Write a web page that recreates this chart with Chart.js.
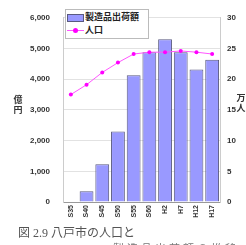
<!DOCTYPE html>
<html><head><meta charset="utf-8">
<script src="https://cdn.jsdelivr.net/npm/chart.js@4"></script>
<style>
html,body{margin:0;padding:0;background:#fff;}
#wrap{position:relative;width:246px;height:245px;overflow:hidden;font-family:"Liberation Sans","Noto Sans CJK JP",sans-serif;}
canvas{position:absolute;left:0;top:0;}
.ttl{position:absolute;font-family:"Noto Sans CJK JP",sans-serif;font-weight:bold;font-size:9px;line-height:10px;color:#333;width:10px;text-align:center;}
#legend{position:absolute;left:65px;top:9px;width:82px;height:28px;border:1px solid #bbb;background:#fff;font-family:"Noto Sans CJK JP",sans-serif;font-weight:bold;font-size:9px;color:#222;}
.li{position:absolute;left:0;height:12px;line-height:12px;white-space:nowrap;}
.li span.t{position:absolute;left:19px;top:0;}
.cap{position:absolute;font-family:"Liberation Serif","Noto Sans CJK JP",serif;color:#555;white-space:nowrap;}
</style></head>
<body>
<div id="wrap">
<canvas id="c" width="246" height="245"></canvas>
<div class="ttl" style="left:13px;top:95px;">億<br>円</div>
<div class="ttl" style="left:236px;top:93px;">万<br>人</div>
<div id="legend"></div>
<div class="cap" style="left:18px;top:225px;font-size:12px;line-height:16px;">図 2.9 八戸市の人口と</div>
<div class="cap" style="left:113px;top:242px;font-size:11px;line-height:14px;letter-spacing:3px;color:#777;">製造品出荷額の推移</div>
</div>
<script>
const categories = ['S35','S40','S45','S50','S55','S60','H2','H7','H12','H17'];
const shipments = [null, 350, 1230, 2300, 4130, 4880, 5300, 4880, 4320, 4630];
const population = [17.5, 19.1, 21.1, 22.7, 24.1, 24.4, 24.4, 24.6, 24.4, 24.1];
const seriesNames = ['製造品出荷額', '人口'];
const leftTicks = [0, 1000, 2000, 3000, 4000, 5000, 6000];
const rightTicks = [0, 5, 10, 15, 20, 25, 30];

const barFill = '#9999ff', barBorder = '#5a5a80', lineColor = '#ff55ff', pointColor = '#ff00ff';

const lg = document.getElementById('legend');
lg.innerHTML =
 '<div class="li" style="top:1px;width:82px;"><span style="position:absolute;left:1px;top:3px;width:15px;height:6px;background:'+barFill+';border:1px solid '+barBorder+';"></span><span class="t">'+seriesNames[0]+'</span></div>'+
 '<div class="li" style="top:14px;width:82px;"><span style="position:absolute;left:1px;top:6px;width:17px;height:1px;background:'+lineColor+';"></span><span style="position:absolute;left:7px;top:4px;width:5px;height:5px;border-radius:50%;background:'+pointColor+';"></span><span class="t">'+seriesNames[1]+'</span></div>';

const tickFont = {family:'"Liberation Sans", Arial, sans-serif', size:8, weight:'bold'};

new Chart(document.getElementById('c'), {
  data: {
    labels: categories,
    datasets: [
      {type:'line', label:seriesNames[1], data:population, yAxisID:'y1', order:0,
       borderColor:lineColor, borderWidth:1, pointRadius:2, pointBackgroundColor:pointColor,
       pointBorderColor:pointColor, pointBorderWidth:0, tension:0},
      {type:'bar', label:seriesNames[0], data:shipments, yAxisID:'y', order:1,
       backgroundColor:barFill, borderColor:barBorder, borderWidth:1,
       barPercentage:0.88, categoryPercentage:1.0}
    ]
  },
  options: {
    responsive:false, animation:false, devicePixelRatio:1,
    layout:{padding:{top:9,left:0,right:0,bottom:0}},
    plugins:{legend:{display:false}, tooltip:{enabled:false}},
    scales:{
      x:{offset:true, grid:{display:false, drawTicks:false}, border:{color:'#999'},
         ticks:{minRotation:90, maxRotation:90, autoSkip:false, padding:3, color:'#333', font:{family:'"Liberation Sans", Arial, sans-serif', size:7, weight:'bold'}},
         afterFit:(s)=>{s.height=43;}},
      y:{position:'left', min:0, max:6000,
         afterBuildTicks:(s)=>{s.ticks = leftTicks.map(v=>({value:v}));},
         grid:{color:'#e2e2e2', drawTicks:false}, border:{color:'#ccc'},
         ticks:{padding:13, color:'#333', font:tickFont, callback:(v)=>Number(v).toLocaleString('en-US')},
         afterFit:(s)=>{s.width=63;}},
      y1:{position:'right', min:0, max:30,
         afterBuildTicks:(s)=>{s.ticks = rightTicks.map(v=>({value:v}));},
         grid:{drawOnChartArea:false, drawTicks:false}, border:{color:'#ccc'},
         ticks:{padding:7, color:'#333', font:tickFont},
         afterFit:(s)=>{s.width=26;}}
    }
  }
});
</script>
</body></html>
